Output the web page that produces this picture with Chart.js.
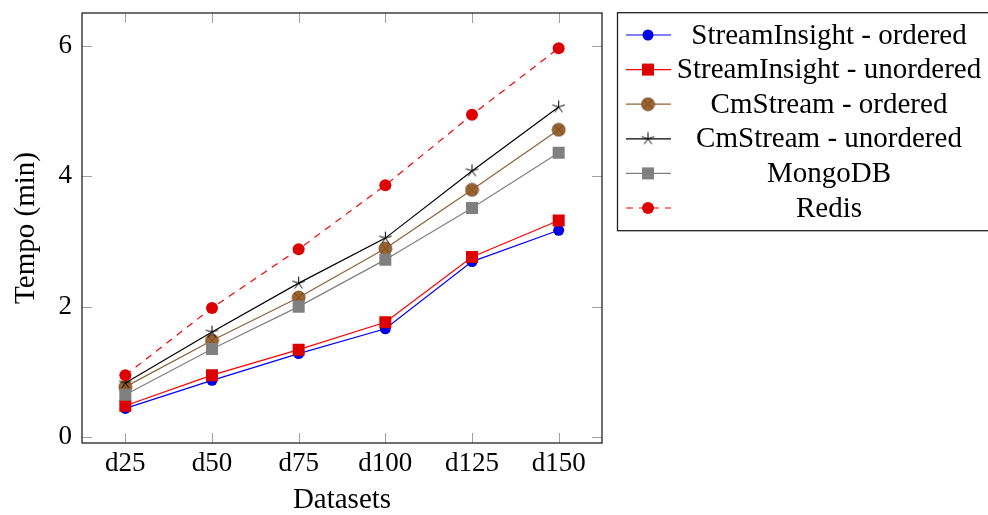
<!DOCTYPE html>
<html>
<head>
<meta charset="utf-8">
<script src="https://cdn.jsdelivr.net/npm/chart.js@4/dist/chart.umd.min.js"></script>
<style>
  html, body { margin: 0; padding: 0; background: #fff; }
</style>
</head>
<body>
<canvas id="lineChart" width="988" height="515"></canvas>
<script>
const categories = ['d25', 'd50', 'd75', 'd100', 'd125', 'd150'];
const yTicks = [0, 2, 4, 6];

const siOrdered = [0.44, 0.87, 1.28, 1.66, 2.69, 3.17];
const siUnordered = [0.48, 0.95, 1.34, 1.76, 2.76, 3.32];
const cmOrdered = [0.77, 1.48, 2.14, 2.89, 3.79, 4.71];
const cmUnordered = [0.83, 1.61, 2.36, 3.05, 4.08, 5.06];
const mongo = [0.65, 1.35, 2.0, 2.72, 3.51, 4.36];
const redis = [0.95, 1.98, 2.88, 3.86, 4.94, 5.96];

const serif = '"Liberation Serif", "DejaVu Serif", serif';

// pgfplots style marks that chart.js does not have
function makeStar() {
    const c = document.createElement('canvas');
    c.width = 15; c.height = 15;
    const g = c.getContext('2d');
    g.strokeStyle = '#000';
    g.lineWidth = 1;
    g.beginPath();
    for (let k = 0; k < 5; k++) {
        const a = -Math.PI / 2 + k * 2 * Math.PI / 5;
        g.moveTo(7.5, 7.5);
        g.lineTo(7.5 + 6.5 * Math.cos(a), 7.5 + 6.5 * Math.sin(a));
    }
    g.stroke();
    return c;
}

function makeOtimes() {
    const c = document.createElement('canvas');
    c.width = 15; c.height = 15;
    const g = c.getContext('2d');
    g.fillStyle = '#9a6430';
    g.strokeStyle = '#6e4520';
    g.lineWidth = 0.8;
    g.beginPath();
    g.arc(7.5, 7.5, 6.5, 0, Math.PI * 2);
    g.fill();
    g.stroke();
    const d = 6.5 * Math.SQRT1_2;
    g.beginPath();
    g.moveTo(7.5 - d, 7.5 - d); g.lineTo(7.5 + d, 7.5 + d);
    g.moveTo(7.5 + d, 7.5 - d); g.lineTo(7.5 - d, 7.5 + d);
    g.stroke();
    return c;
}

const starMark = makeStar();
const otimesMark = makeOtimes();

function series(label, data, line, fill, style, radius, dash) {
    return {
        label: label,
        data: data,
        borderColor: line,
        backgroundColor: fill,
        pointBackgroundColor: fill,
        pointBorderColor: fill,
        pointBorderWidth: 0,
        pointStyle: style,
        pointRadius: radius,
        pointHoverRadius: radius,
        borderWidth: 1.2,
        borderDash: dash || [],
        tension: 0,
        fill: false
    };
}

const datasets = [
    series('StreamInsight - ordered', siOrdered, '#0000ff', '#0000e0', 'circle', 5.5),
    series('StreamInsight - unordered', siUnordered, '#ff0000', '#dd0000', 'rect', 8.5),
    series('CmStream - ordered', cmOrdered, '#8c6239', '#9a6430', otimesMark, 7),
    series('CmStream - unordered', cmUnordered, '#000000', '#000000', starMark, 7),
    series('MongoDB', mongo, '#808080', '#808080', 'rect', 8.5),
    series('Redis', redis, '#ff0000', '#dd0000', 'circle', 6, [7, 6])
];
datasets.forEach((ds, i) => { ds.order = 10 - i; });

function drawMark(ctx, ds, x, y) {
    const st = ds.pointStyle;
    const r = ds.pointRadius;
    ctx.fillStyle = ds.pointBackgroundColor;
    if (st === 'circle') {
        ctx.beginPath();
        ctx.arc(x, y, r, 0, Math.PI * 2);
        ctx.fill();
    } else if (st === 'rect') {
        const s = Math.SQRT1_2 * r;
        ctx.fillRect(x - s, y - s, 2 * s, 2 * s);
    } else {
        ctx.drawImage(st, x - st.width / 2, y - st.height / 2);
    }
}

const frame = {
    id: 'frame',
    beforeDatasetsDraw(chart) {
        const ctx = chart.ctx;
        const a = chart.chartArea;
        const xs = chart.scales.x;
        const ys = chart.scales.y;
        ctx.save();
        ctx.strokeStyle = '#a0a0a0';
        ctx.lineWidth = 1;
        ctx.beginPath();
        yTicks.forEach(v => {
            const py = Math.round(ys.getPixelForValue(v)) + 0.5;
            ctx.moveTo(a.left, py); ctx.lineTo(a.left + 10, py);
            ctx.moveTo(a.right, py); ctx.lineTo(a.right - 10, py);
        });
        categories.forEach((c, i) => {
            const px = Math.round(xs.getPixelForTick(i)) + 0.5;
            ctx.moveTo(px, a.top); ctx.lineTo(px, a.top + 10);
            ctx.moveTo(px, a.bottom); ctx.lineTo(px, a.bottom - 10);
        });
        ctx.stroke();
        ctx.strokeStyle = '#222';
        ctx.lineWidth = 1.3;
        ctx.strokeRect(a.left, a.top, a.right - a.left, a.bottom - a.top);
        ctx.restore();
    },
    afterDraw(chart) {
        // legend box to the right, like the pgfplots one
        const ctx = chart.ctx;
        ctx.save();
        ctx.strokeStyle = '#222';
        ctx.lineWidth = 1.3;
        ctx.strokeRect(617.5, 12.7, 380, 218);
        ctx.font = '29px ' + serif;
        ctx.textAlign = 'center';
        ctx.textBaseline = 'middle';
        chart.data.datasets.forEach((ds, i) => {
            const y = 35 + i * 34.6;
            ctx.strokeStyle = ds.borderColor;
            ctx.lineWidth = ds.borderWidth;
            ctx.setLineDash(ds.borderDash);
            ctx.beginPath();
            ctx.moveTo(626, y); ctx.lineTo(671, y);
            ctx.stroke();
            ctx.setLineDash([]);
            drawMark(ctx, ds, 648, y);
            ctx.fillStyle = '#000';
            ctx.fillText(ds.label, 829, y + 1);
        });
        ctx.restore();
    }
};

const ctx = document.getElementById('lineChart').getContext('2d');
const chartInstance = new Chart(ctx, {
    type: 'line',
    data: {
        labels: categories,
        datasets: datasets
    },
    options: {
        responsive: false,
        animation: false,
        devicePixelRatio: 1,
        layout: { padding: { left: 0, top: 13, right: 386, bottom: 0 } },
        plugins: {
            legend: { display: false },
            tooltip: { enabled: false }
        },
        scales: {
            x: {
                offset: true,
                grid: { display: false, drawTicks: false },
                border: { display: false },
                ticks: {
                    color: '#000',
                    padding: 5,
                    font: { family: serif, size: 27, lineHeight: 1.2 }
                },
                title: {
                    display: true,
                    text: 'Datasets',
                    color: '#000',
                    padding: 0,
                    font: { family: serif, size: 29, lineHeight: 1.0 }
                },
                afterFit(scale) { scale.height = 72; }
            },
            y: {
                min: -0.09,
                max: 6.5,
                grid: { display: false, drawTicks: false },
                border: { display: false },
                afterBuildTicks(scale) {
                    scale.ticks = yTicks.map(v => ({ value: v }));
                },
                ticks: {
                    color: '#000',
                    padding: 10,
                    font: { family: serif, size: 27, lineHeight: 0.1 }
                },
                title: {
                    display: true,
                    text: 'Tempo (min)',
                    color: '#000',
                    padding: { top: 12, bottom: 0 },
                    font: { family: serif, size: 29, lineHeight: 1.0 }
                },
                afterFit(scale) { scale.width = 82; }
            }
        }
    },
    plugins: [frame]
});
</script>
</body>
</html>
